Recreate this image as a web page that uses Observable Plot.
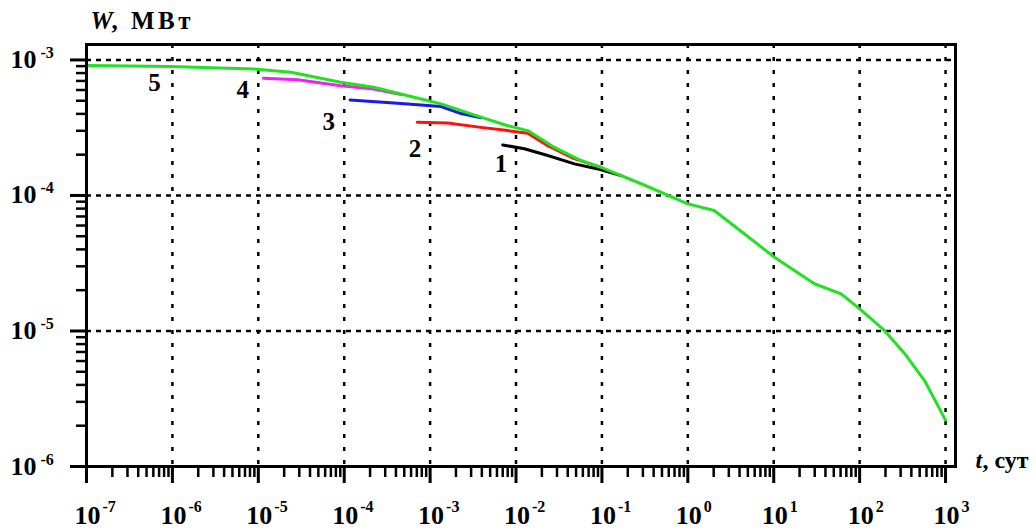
<!DOCTYPE html>
<html>
<head>
<meta charset="utf-8">
<script src="https://cdn.jsdelivr.net/npm/d3@7"></script>
<script src="https://cdn.jsdelivr.net/npm/@observablehq/plot@0.6"></script>
<style>
  html, body { margin: 0; padding: 0; background: #fff; }
  svg text { font-family: "Liberation Serif", "Times New Roman", Times, serif !important; }
</style>
</head>
<body>
<div id="chart"></div>
<script>
// ---- Data (t in days, W in MW) ----
const t5 = [1.05e-7, 9.5e-7, 8.8e-6, 2.4e-5, 9.1e-5, 2.2e-4, 6.5e-4, 1.34e-3, 3.9e-3, 8.0e-3, 1.37e-2, 2.77e-2, 5.7e-2, 9.8e-2, 0.286, 1.0, 2.03, 10.2, 29.7, 61, 105, 194, 333, 569, 1000];
const w5 = [9.08e-4, 8.93e-4, 8.59e-4, 8.11e-4, 6.84e-4, 6.28e-4, 5.3e-4, 4.74e-4, 3.78e-4, 3.27e-4, 3.01e-4, 2.27e-4, 1.81e-4, 1.61e-4, 1.22e-4, 8.67e-5, 7.74e-5, 3.5e-5, 2.23e-5, 1.88e-5, 1.42e-5, 1.01e-5, 6.83e-6, 4.31e-6, 2.2e-6];

const t4 = [1.15e-5, 2.86e-5, 9.1e-5, 2.2e-4, 4.6e-4];
const w4 = [7.32e-4, 7.13e-4, 6.46e-4, 6.11e-4, 5.55e-4];

const t3 = [1.17e-4, 4.18e-4, 1.34e-3, 2.29e-3, 3.9e-3];
const w3 = [5.07e-4, 4.79e-4, 4.53e-4, 4.02e-4, 3.75e-4];

const t2 = [7.1e-4, 1.6e-3, 3.9e-3, 8.0e-3, 1.37e-2, 2.34e-2, 4.74e-2, 9.8e-2];
const w2 = [3.47e-4, 3.43e-4, 3.18e-4, 3.01e-4, 2.88e-4, 2.33e-4, 1.87e-4, 1.61e-4];

const t1 = [7.0e-3, 1.25e-2, 2.34e-2, 4.79e-2, 8.95e-2, 0.167];
const w1 = [2.36e-4, 2.21e-4, 1.97e-4, 1.71e-4, 1.57e-4, 1.40e-4];

// curve labels
const labelText = ["1", "2", "3", "4", "5"];
const labelT = [6.7e-3, 6.65e-4, 6.6e-5, 6.6e-6, 6.2e-7];
const labelW = [1.71e-4, 2.2e-4, 3.51e-4, 5.99e-4, 6.81e-4];

// ticks
const xMajor = [1e-7, 1e-6, 1e-5, 1e-4, 1e-3, 1e-2, 1e-1, 1e0, 1e1, 1e2, 1e3];
const xExp = ["-7", "-6", "-5", "-4", "-3", "-2", "-1", "0", "1", "2", "3"];
const yMajor = [1e-6, 1e-5, 1e-4, 1e-3];
const yExp = ["-6", "-5", "-4", "-3"];
const xGrid = [1e-6, 1e-5, 1e-4, 1e-3, 1e-2, 1e-1, 1e0, 1e1, 1e2, 1e3];
const yGrid = [1e-5, 1e-4, 1e-3];

const minorOf = (majors) => majors.flatMap(m => [2, 3, 4, 5, 6, 7, 8, 9].map(k => k * m));
const xMinor = minorOf(xMajor.slice(0, -1));
const yMinor = minorOf(yMajor.slice(0, -1));

const mk = (t, w) => t.map((d, i) => ({t: d, w: w[i]}));
const s1 = mk(t1, w1), s2 = mk(t2, w2), s3 = mk(t3, w3), s4 = mk(t4, w4), s5 = mk(t5, w5);
const labels = labelText.map((s, i) => ({s, t: labelT[i], w: labelW[i]}));
const xLab = xMajor.map((v, i) => ({v, e: xExp[i]}));
const yLab = yMajor.map((v, i) => ({v, e: yExp[i]}));

const SERIF = "Liberation Serif";
const lineW = 3;
const T = {fontFamily: SERIF, fontWeight: "bold", fill: "#000"};
const yTitle = ", МВт";

const chart = Plot.plot({
  width: 1036,
  height: 531,
  marginLeft: 86,
  marginRight: 81,
  marginTop: 44,
  marginBottom: 65,
  style: {background: "#fff", overflow: "visible"},
  x: {type: "log", domain: [1e-7, 1306], axis: null},
  y: {type: "log", domain: [1e-6, 1.3e-3], axis: null},
  marks: [
    // grid
    Plot.ruleX(xGrid, {x: d => d, stroke: "#000", strokeWidth: 2.5, strokeDasharray: "4,9"}),
    Plot.ruleY(yGrid, {y: d => d, stroke: "#000", strokeWidth: 2.5, strokeDasharray: "5,5"}),
    // ticks
    Plot.axisX(xMinor, {anchor: "bottom", tickSize: 11, strokeWidth: 2.5, tickFormat: () => "", label: null}),
    Plot.axisX(xMajor, {anchor: "bottom", tickSize: 17, strokeWidth: 3, tickFormat: () => "", label: null}),
    Plot.axisY(yMinor, {anchor: "left", tickSize: 10, strokeWidth: 2.5, tickFormat: () => "", label: null}),
    Plot.axisY(yMajor, {anchor: "left", tickSize: 16, strokeWidth: 3, tickFormat: () => "", label: null}),
    // tick labels x
    Plot.text(xLab, {...T, x: "v", frameAnchor: "bottom", text: () => "10", dy: 57, dx: 1, lineAnchor: "bottom", textAnchor: "middle", fontSize: 26}),
    Plot.text(xLab, {...T, x: "v", frameAnchor: "bottom", text: "e", dy: 45, dx: 16, lineAnchor: "bottom", textAnchor: "start", fontSize: 16}),
    // tick labels y
    Plot.text(yLab, {...T, y: "v", frameAnchor: "left", text: () => "10", dx: -50, dy: 8, lineAnchor: "bottom", textAnchor: "end", fontSize: 26}),
    Plot.text(yLab, {...T, y: "v", frameAnchor: "left", text: "e", dx: -46, dy: -2, lineAnchor: "bottom", textAnchor: "start", fontSize: 16}),
    // axis titles
    Plot.text(["W"], {...T, frameAnchor: "top-left", text: d => d, dx: 4, dy: -16, lineAnchor: "bottom", textAnchor: "start", fontSize: 25, fontStyle: "italic"}),
    Plot.text([yTitle], {...T, frameAnchor: "top-left", text: d => d, dx: 25, dy: -16, lineAnchor: "bottom", textAnchor: "start", fontSize: 25}),
    Plot.text(["t"], {...T, frameAnchor: "bottom-right", text: d => d, dx: 20, dy: 1, lineAnchor: "bottom", textAnchor: "start", fontSize: 24, fontStyle: "italic"}),
    Plot.text([", сут"], {...T, frameAnchor: "bottom-right", text: d => d, dx: 27, dy: 1, lineAnchor: "bottom", textAnchor: "start", fontSize: 24}),
    // curves
    Plot.line(s1, {x: "t", y: "w", stroke: "#000", strokeWidth: lineW}),
    Plot.line(s2, {x: "t", y: "w", stroke: "#ff1010", strokeWidth: lineW}),
    Plot.line(s3, {x: "t", y: "w", stroke: "#1a1ae8", strokeWidth: lineW}),
    Plot.line(s4, {x: "t", y: "w", stroke: "#f020f0", strokeWidth: lineW}),
    Plot.line(s5, {x: "t", y: "w", stroke: "#22e022", strokeWidth: lineW}),
    // curve labels
    Plot.text(labels, {...T, x: "t", y: "w", text: "s", fontSize: 25, lineAnchor: "middle", textAnchor: "middle"}),
    // frame
    Plot.frame({stroke: "#000", strokeWidth: 3})
  ]
});
d3.select(chart).selectAll("text")
  .filter(function() { return this.textContent === yTitle; })
  .attr("letter-spacing", "3.5px");
document.getElementById("chart").appendChild(chart);
</script>
</body>
</html>
